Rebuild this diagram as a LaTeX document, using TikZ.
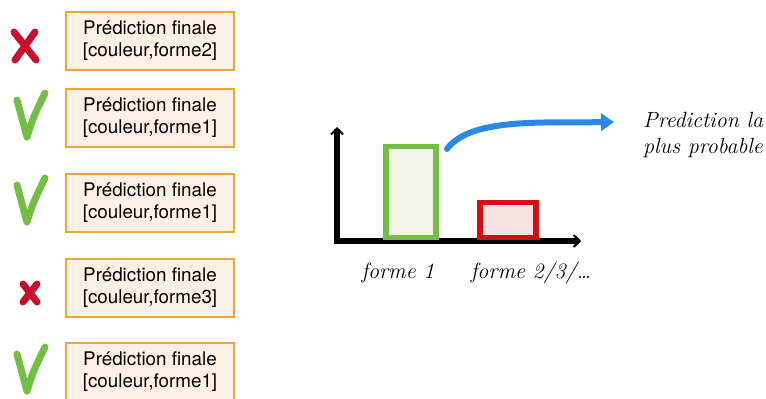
\documentclass[tikz,border=0pt]{standalone}
\usepackage{fontspec}
\setsansfont{TeX Gyre Heros}
\usetikzlibrary{arrows.meta,positioning}

\definecolor{boxorange}{HTML}{F2A33A}
\definecolor{boxfill}{HTML}{FDF0E4}
\definecolor{okgreen}{HTML}{72BF44}
\definecolor{badred}{HTML}{C8102E}
\definecolor{barred}{HTML}{D40F14}
\definecolor{barredfill}{HTML}{F8E1E2}
\definecolor{bargreenfill}{HTML}{F2F5E7}
\definecolor{arrowblue}{HTML}{2A88E6}

\begin{document}
\begin{tikzpicture}[x=1pt,y=-1pt,
   predbox/.style={draw=boxorange,fill=boxfill,line width=1.6pt,align=center,
               font=\sffamily\fontsize{18.8}{22}\selectfont,
               minimum width=168pt,minimum height=58pt,inner sep=0pt},
   ok/.style={draw=okgreen,line width=7pt,line cap=round,line join=round},
   bad/.style={draw=badred,line width=7pt,line cap=round},
   hand/.style={font=\itshape\fontsize{22}{26}\selectfont,align=left,inner sep=0pt},
   axis/.style={line width=6pt,-{Straight Barb[length=6pt,width=12pt,line width=2pt]}},
   bar/.style={line width=5.5pt,inner sep=0pt,anchor=south west}]
  \useasboundingbox (0,0) rectangle (766,399);
  % predictions
  \node[predbox] (p1) at (150,41) {Prédiction finale\\{}[couleur,forme2]};
  \node[predbox] (p2) at (150,118) {Prédiction finale\\{}[couleur,forme1]};
  \node[predbox] (p3) at (150,203) {Prédiction finale\\{}[couleur,forme1]};
  \node[predbox] (p4) at (150,288) {Prédiction finale\\{}[couleur,forme3]};
  \node[predbox] (p5) at (150,372) {Prédiction finale\\{}[couleur,forme1]};
  % marks
  \draw[bad] (14,32) -- (36,60) (35,32) -- (15,60);
  \draw[ok] (17,100) .. controls (21,115) .. (27,137) .. controls (33,118) .. (45,93);
  \draw[ok] (17,185) .. controls (21,200) .. (27,222) .. controls (33,203) .. (45,178);
  \draw[bad] (23,284) -- (37,302) (37,284) -- (23,302);
  \draw[ok] (17,354) .. controls (21,369) .. (27,391) .. controls (33,372) .. (45,347);
  % chart
  \coordinate (o) at (337,241);
  \draw[axis] (o) -- (337,127);
  \draw[axis] (334,241) -- (581,241);
  \node[bar,draw=okgreen,fill=bargreenfill,minimum width=50pt,minimum height=91pt] (bar1) at (383,240) {};
  \node[bar,draw=barred,fill=barredfill,minimum width=56pt,minimum height=35pt] (bar2) at (477,240) {};
  \node[hand] (f1) at (398,273) {forme 1};
  \node[hand] (f2) at (531,273) {forme 2/3/\dots};
  \node[hand,anchor=west] (best) at (643,135) {Prediction la\\plus probable};
  \coordinate (start) at (447,149);
  \draw[arrowblue,line width=6pt,line cap=round,-{Triangle[length=13pt,width=17pt]}]
    (start) .. controls (470,118) and (540,123) .. (614,122);
\end{tikzpicture}
\end{document}
